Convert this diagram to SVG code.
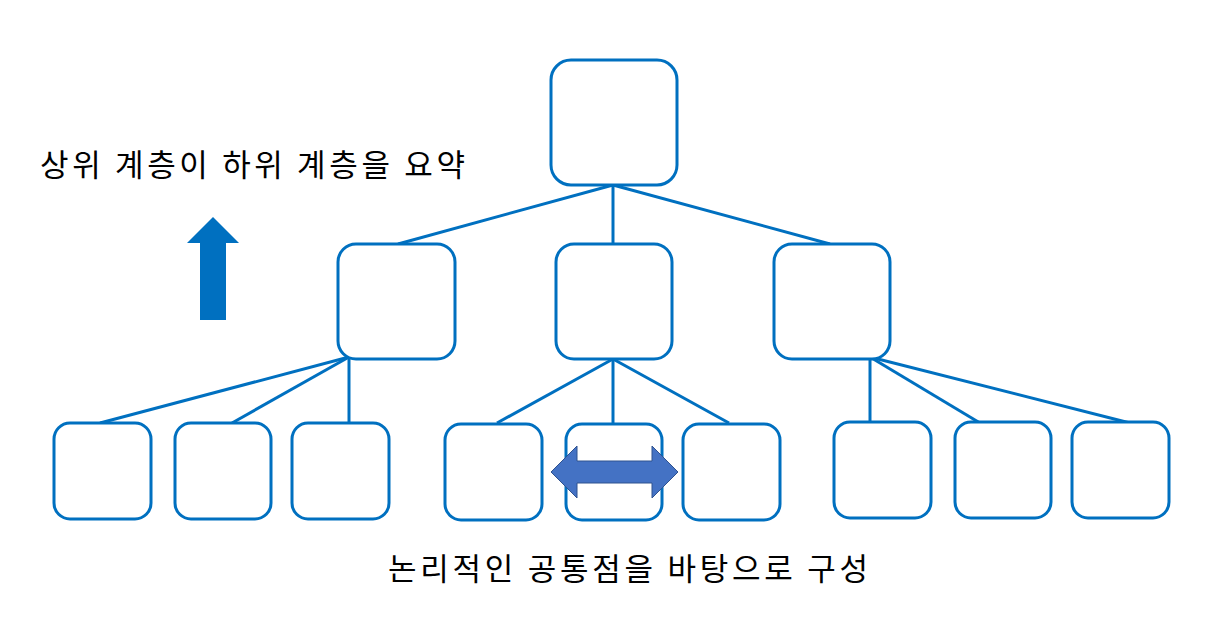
<svg xmlns="http://www.w3.org/2000/svg" width="1215" height="637" viewBox="0 0 1215 637">
<style>
.b{fill:#fff;stroke:#0070C0;stroke-width:3}
.c line{stroke:#0070C0;stroke-width:3}
text{font-family:"Noto Sans CJK KR","Noto Sans",sans-serif;font-size:31px;fill:#000}
</style>
<rect width="1215" height="637" fill="#fff"/>
<g class="c" id="connectors">
<line x1="613" y1="185" x2="398" y2="244"/><line x1="613" y1="185" x2="613" y2="244"/><line x1="613" y1="185" x2="830" y2="244"/>
<line x1="349" y1="357" x2="100" y2="423"/><line x1="349" y1="357" x2="232" y2="423"/><line x1="349" y1="357" x2="349" y2="423"/>
<line x1="613" y1="359" x2="497" y2="423"/><line x1="613" y1="359" x2="613" y2="423"/><line x1="613" y1="359" x2="729" y2="423"/>
<line x1="870" y1="357" x2="870" y2="423"/><line x1="870" y1="357" x2="980" y2="423"/><line x1="870" y1="357" x2="1130" y2="423"/>
</g>
<g id="top"><rect class="b" x="551" y="60" width="126" height="125" rx="20"/></g>
<g id="m1"><rect class="b" x="338" y="244" width="117" height="115" rx="18"/></g>
<g id="m2"><rect class="b" x="556" y="244" width="116" height="115" rx="18"/></g>
<g id="m3"><rect class="b" x="774" y="244" width="116" height="115" rx="18"/></g>
<g id="l1"><rect class="b" x="54" y="423" width="97" height="96" rx="16"/></g>
<g id="l2"><rect class="b" x="175" y="423" width="96" height="96" rx="16"/></g>
<g id="l3"><rect class="b" x="292" y="423" width="97" height="96" rx="16"/></g>
<g id="l4"><rect class="b" x="445" y="424" width="97" height="96" rx="16"/></g>
<g id="l5"><rect class="b" x="566" y="424" width="96" height="96" rx="16"/></g>
<g id="l6"><rect class="b" x="683" y="424" width="97" height="96" rx="16"/></g>
<g id="l7"><rect class="b" x="834" y="422" width="97" height="96" rx="16"/></g>
<g id="l8"><rect class="b" x="955" y="422" width="96" height="96" rx="16"/></g>
<g id="l9"><rect class="b" x="1072" y="422" width="97" height="96" rx="16"/></g>
<polygon points="213,217 239,243 226,243 226,320 200,320 200,243 187,243" fill="#0070C0"/>
<polygon points="551,472 577,446 577,461 652,461 652,446 678,472 652,498 652,483 577,483 577,498" fill="#4472C4" stroke="#2F528F" stroke-width="1"/>
<text x="40" y="176" textLength="425" lengthAdjust="spacing">상위 계층이 하위 계층을 요약</text>
<text x="388" y="580" textLength="480" lengthAdjust="spacing">논리적인 공통점을 바탕으로 구성</text>
</svg>
